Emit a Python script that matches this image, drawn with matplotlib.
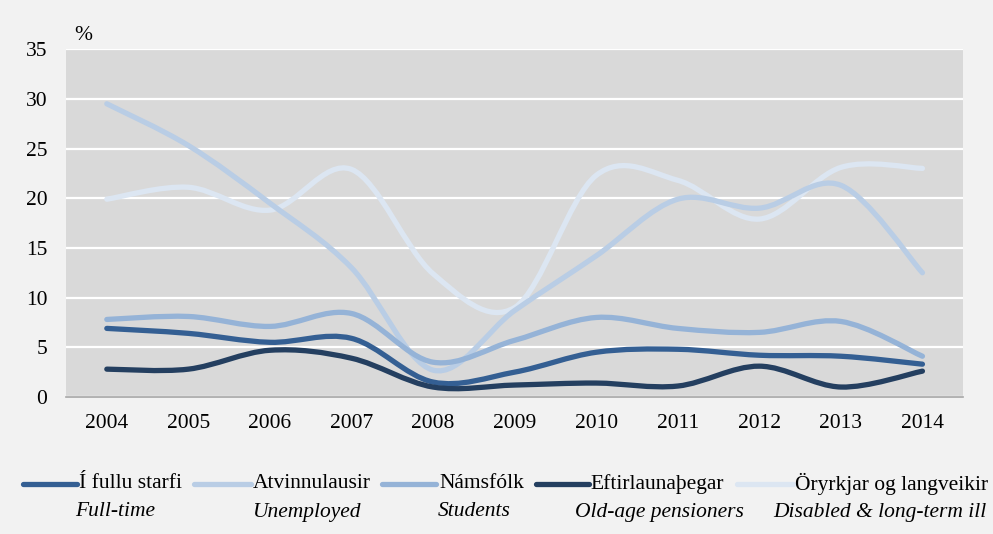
"""Labour-market status line chart, 2004-2014 (smoothed lines)."""

import matplotlib
import matplotlib.pyplot as plt
import numpy as np
from matplotlib.lines import Line2D
from matplotlib.path import Path
from matplotlib.patches import PathPatch

matplotlib.use("Agg")

# ---------------------------------------------------------------------------
# Data
# ---------------------------------------------------------------------------

years = [2004, 2005, 2006, 2007, 2008, 2009, 2010, 2011, 2012, 2013, 2014]

full_time = [6.9, 6.4, 5.5, 5.9, 1.5, 2.5, 4.5, 4.8, 4.2, 4.1, 3.3]
unemployed = [29.5, 25.3, 19.5, 13.0, 2.7, 8.7, 14.2, 19.9, 19.0, 21.3, 12.5]
students = [7.8, 8.1, 7.1, 8.4, 3.5, 5.7, 8.0, 6.9, 6.5, 7.6, 4.1]
pensioners = [2.8, 2.8, 4.7, 3.9, 1.0, 1.2, 1.4, 1.1, 3.1, 1.0, 2.6]
disabled = [19.9, 21.1, 18.8, 22.9, 12.4, 9.0, 22.3, 21.8, 17.9, 23.1, 23.0]

labels_is = ["Í fullu starfi", "Atvinnulausir", "Námsfólk",
             "Eftirlaunaþegar", "Öryrkjar og langveikir"]
labels_en = ["Full-time", "Unemployed", "Students",
             "Old-age pensioners", "Disabled & long-term ill"]
colours = ["#345f93", "#b9cde5", "#95b3d7", "#243f60", "#dce6f2"]
series = [full_time, unemployed, students, pensioners, disabled]

# draw order: back to front as in the reference
draw_order = [4, 1, 2, 0, 3]

FONT = "Liberation Serif"
FS = 15.5
LW = 3.8


def smooth_path(xs, ys):
    """Catmull-Rom style bezier path through the points (Excel 'smoothed line')."""
    xs = np.asarray(xs, dtype=float)
    ys = np.asarray(ys, dtype=float)
    n = len(xs)
    verts = [(xs[0], ys[0])]
    codes = [Path.MOVETO]
    for i in range(n - 1):
        p0 = (xs[max(i - 1, 0)], ys[max(i - 1, 0)])
        p1 = (xs[i], ys[i])
        p2 = (xs[i + 1], ys[i + 1])
        p3 = (xs[min(i + 2, n - 1)], ys[min(i + 2, n - 1)])
        c1 = (p1[0] + (p2[0] - p0[0]) / 6, p1[1] + (p2[1] - p0[1]) / 6)
        c2 = (p2[0] - (p3[0] - p1[0]) / 6, p2[1] - (p3[1] - p1[1]) / 6)
        verts += [c1, c2, p2]
        codes += [Path.CURVE4] * 3
    return Path(verts, codes)


fig = plt.figure(figsize=(9.93, 5.34), dpi=100, facecolor="#f2f2f2")
ax = fig.add_axes([0.0665, 0.2566, 0.9035, 0.6514])
ax.set_facecolor("#d9d9d9")

x = np.arange(len(years))
for idx in draw_order:
    patch = PathPatch(smooth_path(x, series[idx]), facecolor="none",
                      edgecolor=colours[idx], lw=LW, capstyle="round",
                      joinstyle="round", zorder=3)
    ax.add_patch(patch)

ax.set_xlim(-0.5, len(years) - 0.5)
ax.set_ylim(0, 35)
ax.set_yticks(range(0, 36, 5))
ax.set_xticks(x)
ax.set_xticklabels([str(y) for y in years])
ax.grid(True, axis="y", color="white", lw=1.6, zorder=1)
ax.set_axisbelow(True)
for side in ["top", "left", "right"]:
    ax.spines[side].set_visible(False)
ax.spines["bottom"].set_color("#a6a6a6")
ax.spines["bottom"].set_linewidth(1.2)
ax.tick_params(length=0, labelsize=FS)
ax.tick_params(axis="x", pad=12)
ax.tick_params(axis="y", pad=13.5)
for lab in ax.get_xticklabels() + ax.get_yticklabels():
    lab.set_fontfamily(FONT)

fig.text(83 / 993, 1 - 35 / 534, "%", fontsize=FS, family=FONT,
         ha="center", va="center")

# ---------------------------------------------------------------------------
# Legend (two rows: Icelandic with handles, English in italics)
# ---------------------------------------------------------------------------

handle_x = [(23, 77), (194, 251), (382, 436), (536, 589), (737, 793)]
text_x = [79, 253, 439, 590, 795]
sub_cx = [115, 306, 474, 659, 880]
for i in range(5):
    x0, x1 = handle_x[i]
    fig.add_artist(Line2D([x0 / 993, x1 / 993], [1 - 484 / 534] * 2,
                          color=colours[i], lw=LW, solid_capstyle="round"))
    fig.text(text_x[i] / 993, 1 - 484 / 534, labels_is[i], fontsize=FS,
             family=FONT, ha="left", va="center")
    fig.text(sub_cx[i] / 993, 1 - 512 / 534, labels_en[i], fontsize=FS,
             family=FONT, style="italic", ha="center", va="center")

fig.savefig("out.png", dpi=100, facecolor=fig.get_facecolor())
